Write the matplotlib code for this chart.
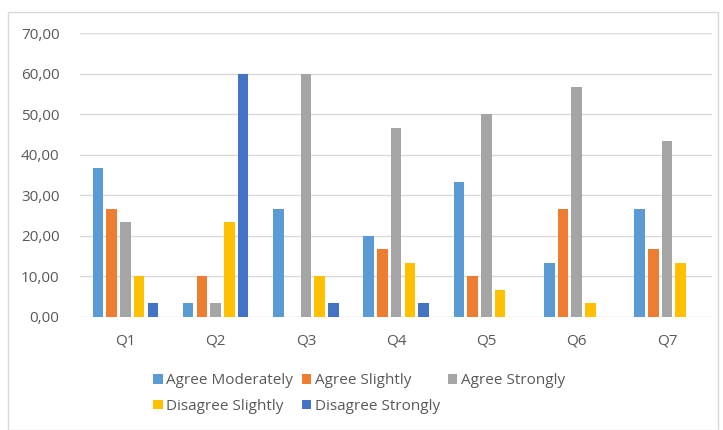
import matplotlib.pyplot as plt
import numpy as np
from matplotlib.patches import Rectangle

questions = ["Q1", "Q2", "Q3", "Q4", "Q5", "Q6", "Q7"]
agree_moderately = [36.67, 3.33, 26.67, 20.00, 33.33, 13.33, 26.67]
agree_slightly = [26.67, 10.00, 0.00, 16.67, 10.00, 26.67, 16.67]
agree_strongly = [23.33, 3.33, 60.00, 46.67, 50.00, 56.67, 43.33]
disagree_slightly = [10.00, 23.33, 10.00, 13.33, 6.67, 3.33, 13.33]
disagree_strongly = [3.33, 60.00, 3.33, 3.33, 0.00, 0.00, 0.00]

series = [
    ("Agree Moderately", agree_moderately, "#5B9BD5"),
    ("Agree Slightly", agree_slightly, "#ED7D31"),
    ("Agree Strongly", agree_strongly, "#A5A5A5"),
    ("Disagree Slightly", disagree_slightly, "#FFC000"),
    ("Disagree Strongly", disagree_strongly, "#4472C4"),
]

plt.rcParams['font.family'] = ['Open Sans', 'DejaVu Sans']
fig = plt.figure(figsize=(7.23, 4.30), dpi=100)
fig.patches.append(Rectangle((0.011, 0.0), 0.982, 0.972, transform=fig.transFigure,
                             fill=False, edgecolor="#D9D9D9", linewidth=1.0))
ax = fig.add_axes([0.111, 0.263, 0.874, 0.66])

x = np.arange(len(questions))
pitch = 0.152
width = 0.117
bars = []
for i, (name, vals, color) in enumerate(series):
    b = ax.bar(x + (i - 2) * pitch, vals, width, color=color, label=name, zorder=3)
    bars.append(b)

ax.set_xlim(-0.5, len(questions) - 0.5)
ax.set_ylim(0, 70)
ax.set_yticks(np.arange(0, 71, 10))
ax.set_yticklabels([f"{v:.2f}".replace(".", ",") for v in np.arange(0, 71, 10)])
ax.set_xticks(x)
ax.set_xticklabels(questions)
ax.tick_params(length=0, colors="#595959", labelsize=11)
ax.tick_params(axis="y", pad=15)
ax.tick_params(axis="x", pad=12)
ax.grid(axis="y", color="#D9D9D9", linewidth=1.0, zorder=0)
for s in ax.spines.values():
    s.set_visible(False)

order = [0, 3, 1, 4, 2]
leg = fig.legend([bars[i] for i in order], [series[i][0] for i in order],
                 ncol=3, loc="upper center", bbox_to_anchor=(0.497, 0.164),
                 frameon=False, fontsize=11, handlelength=0.6, handleheight=0.6,
                 handletextpad=0.25, columnspacing=0.55, labelspacing=0.7)
for t in leg.get_texts():
    t.set_color("#595959")

plt.savefig("out.png", dpi=100)
